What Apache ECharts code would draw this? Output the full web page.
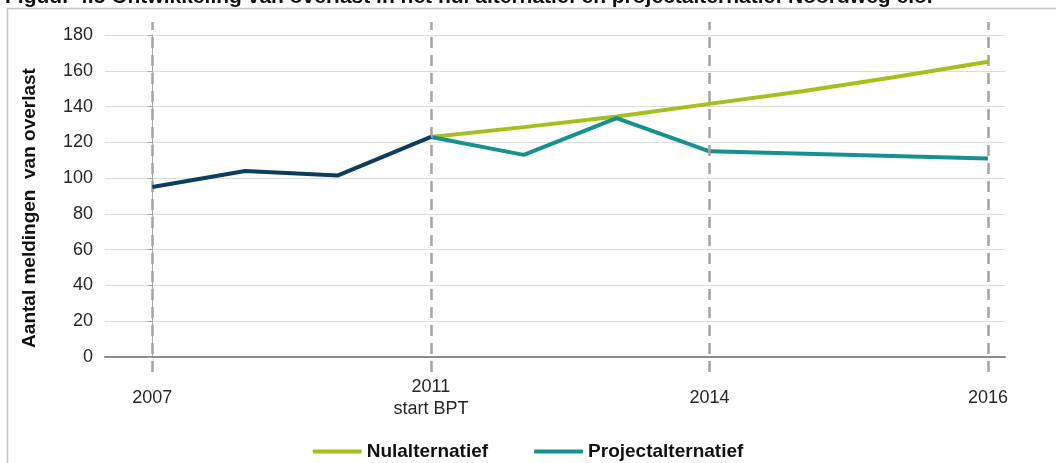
<!DOCTYPE html>
<html>
<head>
<meta charset="utf-8">
<script src="https://cdn.jsdelivr.net/npm/echarts@6/dist/echarts.min.js"></script>
<style>
  html, body { margin: 0; padding: 0; background: #fff; }
  #chart { width: 1056px; height: 463px; }
</style>
</head>
<body>
<div id="chart"></div>
<script>
// x positions are category slots, labels only on a few of them
const categories = ['2007', '', '', '2011\nstart BPT', '', '', '2014', '', '', '2016'];
const labelSlots = [0, 3, 6, 9];

// values (null = no point)
const historie = [95, 104, 101.5, 123, null, null, null, null, null, null];
const nulalternatief = [null, null, null, 123, 128.5, 134.5, 141.5, 148.5, 156.5, 165];
const projectalternatief = [null, null, null, 123, 113, 133.5, 115, null, null, 111];

const yTicks = { min: 0, max: 180, interval: 20 };

function toPairs(arr) {
    return arr.map((v, i) => [i, v]).filter(p => p[1] !== null);
}

const font = 'Liberation Sans, Arial, sans-serif';
const xMin = -0.51, xMax = 9.183;

const chart = echarts.init(document.getElementById('chart'), null, { renderer: 'canvas' });

const option = {
    animation: false,
    textStyle: { fontFamily: font },
    title: {
        text: 'Figuur 4.5 Ontwikkeling van overlast in het nul alternatief en projectalternatief Noordweg e.o.',
        left: 0,
        top: -18,
        textStyle: { fontFamily: font, fontSize: 21, fontWeight: 'bold', color: '#111' }
    },
    graphic: [{
        type: 'rect',
        z: -10,
        silent: true,
        shape: { x: 7.5, y: 8.5, width: 1100, height: 500 },
        style: { fill: 'none', stroke: '#c4c4c4', lineWidth: 1.5 }
    }],
    legend: {
        data: ['Nulalternatief', 'Projectalternatief'],
        left: 'center',
        top: 437,
        itemWidth: 49,
        itemHeight: 4,
        itemGap: 46,
        icon: 'roundRect',
        textStyle: { fontFamily: font, fontSize: 19, fontWeight: 'bold', color: '#111' }
    },
    grid: [
        { left: 105, right: 51, top: 35, bottom: 106 },
        // overlay for the dashed year lines, a bit taller than the plot
        { left: 105, right: 51, top: 22, bottom: 91 }
    ],
    xAxis: [{
        type: 'value',
        gridIndex: 0,
        min: xMin,
        max: xMax,
        splitLine: { show: false },
        axisTick: { show: false },
        axisLine: { lineStyle: { color: '#8c8c8c', width: 2 } },
        axisLabel: {
            customValues: labelSlots,
            formatter: v => categories[v],
            fontSize: 18,
            color: '#262626',
            lineHeight: 22,
            verticalAlign: 'middle',
            margin: 41
        }
    }, {
        type: 'value',
        gridIndex: 1,
        min: xMin,
        max: xMax,
        show: false
    }],
    yAxis: [{
        type: 'value',
        gridIndex: 0,
        min: yTicks.min,
        max: yTicks.max,
        interval: yTicks.interval,
        name: 'Aantal meldingen  van overlast',
        nameLocation: 'middle',
        nameGap: 66,
        nameTextStyle: { fontFamily: font, fontSize: 19, fontWeight: 'bold', color: '#111', padding: [0, 24, 0, 0] },
        axisLine: { show: true, lineStyle: { color: '#a6a6a6', width: 1 } },
        axisTick: { show: true, length: 5, lineStyle: { color: '#a6a6a6' } },
        axisLabel: { fontSize: 18, color: '#262626', margin: 12 },
        splitLine: { lineStyle: { color: '#dcdcdc', width: 1 } }
    }, {
        type: 'value',
        gridIndex: 1,
        min: 0,
        max: 1,
        show: false
    }],
    series: [{
        name: 'Nulalternatief',
        type: 'line',
        data: toPairs(nulalternatief),
        showSymbol: false,
        lineStyle: { color: '#a2c11c', width: 4 },
        itemStyle: { color: '#a2c11c' },
        z: 3
    }, {
        name: 'Projectalternatief',
        type: 'line',
        data: toPairs(projectalternatief),
        showSymbol: false,
        lineStyle: { color: '#17918f', width: 4 },
        itemStyle: { color: '#17918f' },
        z: 4
    }, {
        name: 'Historie',
        type: 'line',
        data: toPairs(historie),
        showSymbol: false,
        lineStyle: { color: '#0d3d5c', width: 4 },
        itemStyle: { color: '#0d3d5c' },
        z: 5
    }, {
        name: 'jaarlijnen',
        type: 'line',
        xAxisIndex: 1,
        yAxisIndex: 1,
        data: [[0, 0]],
        showSymbol: false,
        lineStyle: { opacity: 0 },
        z: 2,
        markLine: {
            silent: true,
            symbol: ['none', 'none'],
            label: { show: false },
            lineStyle: { type: [11, 7], color: '#a3a3a3', width: 2.5 },
            data: labelSlots.map(v => ({ xAxis: v }))
        }
    }]
};

chart.setOption(option);
</script>
</body>
</html>
